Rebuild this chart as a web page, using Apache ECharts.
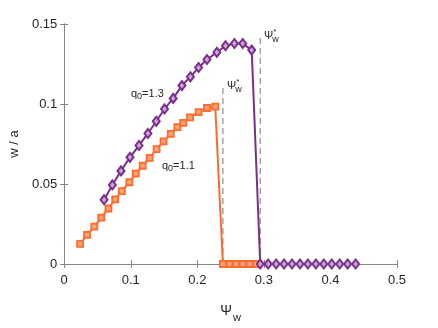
<!DOCTYPE html>
<html><head><meta charset="utf-8">
<script src="https://cdn.jsdelivr.net/npm/echarts@6/dist/echarts.min.js"></script>
<style>html,body{margin:0;padding:0;background:#fff}#c{width:438px;height:328px}</style>
</head><body><div id="c"></div>
<script>
// q0 = 1.1 (orange squares)
const psiA = [0.0239,0.0343,0.0452,0.0557,0.0664,0.0766,0.0866,0.0978,0.1075,0.1179,0.1284,0.1388,0.1493,0.1601,0.1701,0.1787,0.1891,0.2019,0.2145,0.2269,0.2384,0.2482,0.2582,0.2682,0.2781,0.2881];
const wA   = [0.0126,0.0182,0.0234,0.0290,0.0347,0.0404,0.0456,0.0511,0.0565,0.0614,0.0663,0.0718,0.0767,0.0813,0.0855,0.0882,0.0917,0.0949,0.0975,0.0984,0,0,0,0,0,0];
// q0 = 1.3 (purple diamonds)
const psiB = [0.0599,0.0724,0.0853,0.0988,0.1124,0.1258,0.1383,0.1507,0.1637,0.1769,0.1896,0.2019,0.2145,0.2294,0.2423,0.2557,0.2682,0.2817,0.2945,0.3064,0.3184,0.3303,0.3422,0.3542,0.3661,0.3781,0.3900,0.4019,0.4139,0.4258,0.4378];
const wB   = [0.0402,0.0494,0.0582,0.0667,0.0741,0.0816,0.0892,0.0969,0.1035,0.1115,0.1170,0.1228,0.1278,0.1323,0.1364,0.1378,0.1378,0.1337,0,0,0,0,0,0,0,0,0,0,0,0,0];
// critical Psi_w* markers (dashed lines)
const critA = [[0.2384,0],[0.2384,0.110]];
const critB = [[0.2945,0],[0.2945,0.1427]];
const xTicks = {min:0,max:0.5,interval:0.1};
const yTicks = {min:0,max:0.15,interval:0.05};

const orange = '#FF6B2C', purple = '#7B2D8C', txt = '#262626', ax = '#858585';
const font = 'Liberation Sans';
const zip = (a,b)=>a.map((v,i)=>[v,b[i]]);

const chart = echarts.init(document.getElementById('c'), null, {renderer:'canvas'});
const baseAxis = {
  axisLine:{show:true,lineStyle:{color:ax,width:1}},
  axisTick:{show:true,inside:true,length:4,lineStyle:{color:ax}},
  splitLine:{show:false}
};
chart.setOption({
  animation:false,
  grid:{left:62,right:41,top:24,bottom:59},
  xAxis:[
    Object.assign({type:'value',position:'bottom',min:xTicks.min,max:xTicks.max,interval:xTicks.interval,
      axisLabel:{color:txt,fontSize:13,fontFamily:font,margin:10},
      name:'{a|Ψ}{s|w}',nameLocation:'middle',nameGap:36,
      nameTextStyle:{rich:{a:{fontSize:14,color:txt,fontFamily:font},s:{fontSize:11,color:txt,fontFamily:font,verticalAlign:'bottom',padding:[12,0,0,1]}}}
    },baseAxis),
    Object.assign({type:'value',position:'top',min:xTicks.min,max:xTicks.max,interval:xTicks.interval,axisLabel:{show:false}},baseAxis)
  ],
  yAxis:[
    Object.assign({type:'value',position:'left',min:yTicks.min,max:yTicks.max,interval:yTicks.interval,
      axisLabel:{color:txt,fontSize:13,fontFamily:font,margin:7},
      name:'w / a',nameLocation:'middle',nameGap:40,nameRotate:90,
      nameTextStyle:{fontSize:13,color:txt,fontFamily:font}
    },baseAxis),
    Object.assign({type:'value',position:'right',min:yTicks.min,max:yTicks.max,interval:yTicks.interval,axisLabel:{show:false}},baseAxis)
  ],
  series:[
    {type:'line',data:critA,symbol:'none',lineStyle:{color:'#8c8c8c',width:1.2,type:[6,4]},z:1},
    {type:'line',data:critB,symbol:'none',lineStyle:{color:'#8c8c8c',width:1.2,type:[6,4]},z:1},
    {type:'line',data:zip(psiA,wA),symbol:'rect',symbolSize:6,
      lineStyle:{color:orange,width:2},itemStyle:{color:'#FFA27A',borderColor:orange,borderWidth:1.8},z:3},
    {type:'line',data:zip(psiB,wB),symbol:'diamond',symbolSize:[7,9],
      lineStyle:{color:purple,width:2},itemStyle:{color:'#C9A6D1',borderColor:purple,borderWidth:2},z:4}
  ],
  graphic:[
    {type:'text',left:131,top:88,style:{text:'{a|q}{s|0}{a|=1.3}',rich:{a:{fontSize:11,fill:txt,fontFamily:font},s:{fontSize:9,fill:txt,fontFamily:font,padding:[6,0,0,0]}}}},
    {type:'text',left:162,top:160,style:{text:'{a|q}{s|0}{a|=1.1}',rich:{a:{fontSize:11,fill:txt,fontFamily:font},s:{fontSize:9,fill:txt,fontFamily:font,padding:[6,0,0,0]}}}},
    {type:'text',left:227,top:78,style:{text:'{a|Ψ}{p|*}{s|w}',rich:{a:{fontSize:11,fill:txt,fontFamily:font},p:{fontSize:8,fill:txt,fontFamily:font,padding:[0,0,8,0]},s:{fontSize:9,fill:txt,fontFamily:font,padding:[8,0,0,-4]}}}},
    {type:'text',left:264,top:28,style:{text:'{a|Ψ}{p|*}{s|w}',rich:{a:{fontSize:11,fill:txt,fontFamily:font},p:{fontSize:8,fill:txt,fontFamily:font,padding:[0,0,8,0]},s:{fontSize:9,fill:txt,fontFamily:font,padding:[8,0,0,-4]}}}}
  ]
});
</script></body></html>
